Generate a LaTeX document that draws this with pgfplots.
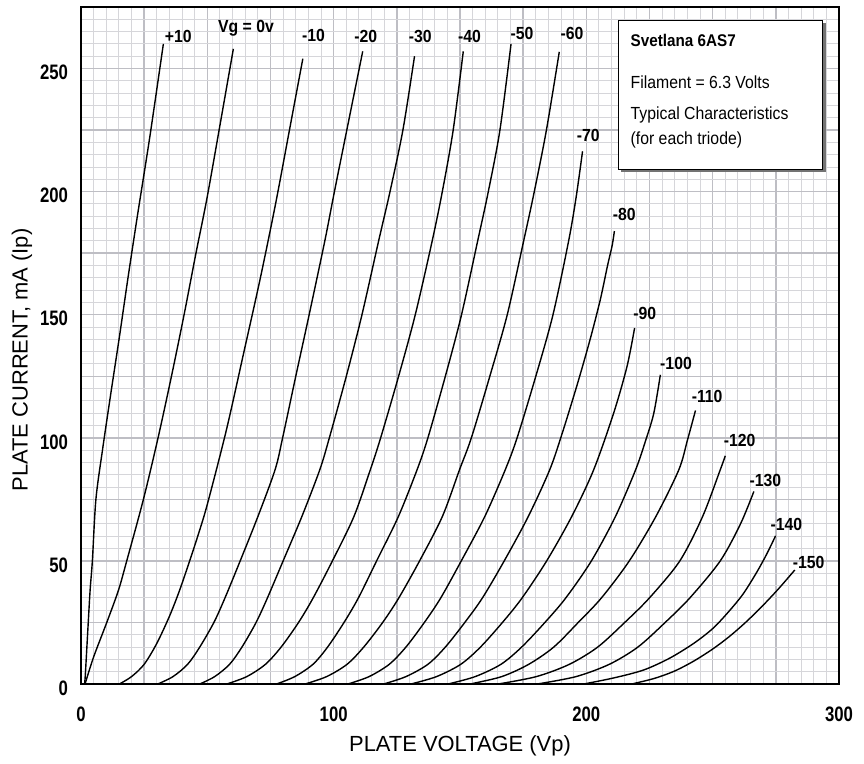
\documentclass[border=0pt]{standalone}
\usepackage{pgfplots}
\pgfplotsset{compat=1.18}
\usepackage{fontspec}
\setmainfont{Liberation Sans}
\newfontfamily\ticksfont[FakeStretch=0.8]{Liberation Sans}
\newfontfamily\curvefont[FakeStretch=0.9]{Liberation Sans}
\newfontfamily\boxfont[FakeStretch=0.9]{Liberation Sans}
\definecolor{gridminor}{RGB}{214,214,218}
\definecolor{gridmajor}{RGB}{190,190,196}
\tikzset{
  curve/.style={black, line width=0.7bp, smooth, tension=0.5, mark=none},
  clab/.style={font=\curvefont\bfseries\fontsize{8.8}{10}\selectfont, inner sep=0pt},
  boxtxt/.style={anchor=west, inner sep=0pt, font=\boxfont\fontsize{8.8}{10}\selectfont},
}

\begin{document}
\begin{tikzpicture}
\begin{axis}[
  width=379bp, height=338.5bp, scale only axis,
  xmin=0, xmax=300, ymin=0, ymax=275,
  xtick={0,25,...,300}, ytick={0,25,...,275},
  xticklabels={0,,,,100,,,,200,,,,300},
  yticklabels={0,,50,,100,,150,,200,,250,},
  minor tick num=4,
  major tick length=0pt, minor tick length=0pt,
  grid=both,
  minor grid style={gridminor, line width=0.5bp},
  major grid style={gridmajor, line width=0.75bp},
  axis line style={black, line width=1bp},
  tick label style={font=\ticksfont\bfseries\fontsize{10.5}{12}\selectfont},
  xticklabel style={yshift=-8bp},
  yticklabel style={xshift=-3bp, yshift=-2bp},
  xlabel={PLATE VOLTAGE (Vp)},
  ylabel={PLATE CURRENT, mA (Ip)},
  label style={font=\fontsize{11}{13}\selectfont},
  xlabel style={at={(axis description cs:0.5,-0.0916)}, anchor=center},
  ylabel style={at={(axis description cs:-0.0778,0.4786)}, anchor=center},
  clip mode=individual,
]
% Vg = +10
\addplot[curve] coordinates {(1.2,0) (1.6,2) (2.6,20) (3.6,38) (4.5,50) (5.9,75) (8.5,95) (11.8,118) (15.2,141) (18.6,165) (22.3,190) (27.2,222) (32.6,260)};
% Vg = 0
\addplot[curve] coordinates {(1.6,0) (5,11) (10.2,25) (14.8,38) (18.1,50) (24.7,75) (30.5,100) (35.8,125) (40.8,150) (45.5,175) (49.8,197) (55,227) (60.3,258)};
% -10
\addplot[curve] coordinates {(15.2,0) (20,3) (25,8) (30,16.5) (35,27.5) (39,38) (43,50) (46.5,61) (50,73) (57.5,103) (64.5,135) (71,165) (77,195) (82.5,225) (87.8,254)};
% -20
\addplot[curve] coordinates {(30.4,0) (36.4,3) (42.2,8) (47,15) (52.6,25) (57,35) (63,50) (70,68) (76.8,87) (79.8,100) (85,125) (90.3,150) (96.5,180) (100.3,200) (105.2,225) (111.5,257)};
% -30
\addplot[curve] coordinates {(47,0) (52.9,3) (58.8,8) (63.7,15) (69.3,25) (73.8,35) (80,50) (87.4,68) (94.5,87) (98.3,100) (105,125) (111.2,150) (117.8,180) (122.3,200) (127.4,225) (132,255)};
% -40
\addplot[curve] coordinates {(57.7,0) (65.6,3) (73,8) (79.2,15) (86.1,25) (91.9,35) (99.5,50) (108,68) (114.5,87) (118.6,100) (125.7,125) (132.3,150) (139,180) (143,200) (147.3,225) (151.3,257)};
% -50
\addplot[curve] coordinates {(77.4,0) (84.6,3) (91.8,8) (97.6,15) (104.1,25) (109.8,35) (117,50) (125.6,68) (133,87) (137.3,100) (144.2,125) (150.6,150) (157,180) (161.2,200) (165.8,225) (170.2,260)};
% -60
\addplot[curve] coordinates {(88.7,0) (97.2,3) (105.3,8) (111.9,15) (119.4,25) (125.8,35) (134,50) (143,68) (149.8,87) (154.5,100) (161.8,125) (168.7,150) (175.2,180) (179.4,200) (184.2,225) (189.3,256.8)};
% -70
\addplot[curve] coordinates {(105.7,0) (114,3) (122,8) (128.6,15) (135.9,25) (142.4,35) (150.5,50) (159.8,68) (167.9,87) (172.6,100) (180,125) (186.8,150) (193,180) (196,198) (198.5,216.4)};
% -80
\addplot[curve] coordinates {(119.8,0) (128.6,3) (137.3,8) (144.2,15) (151.9,25) (158.9,35) (167.5,50) (177,68) (185.5,87) (190.5,102) (196.5,122) (201.5,140) (205.5,156) (208.4,170) (210.2,178) (211.1,184)};
% -90
\addplot[curve] coordinates {(130.6,0) (140.7,3) (150.3,8) (158.1,15) (166.8,25) (174.6,35) (184.3,50) (194.2,68) (202.9,87) (210.8,110) (216.1,129) (219.1,144.6)};
% -100
\addplot[curve] coordinates {(145.3,0) (156,3) (166.2,8) (174.4,15) (183.6,25) (191.9,35) (202,50) (211.5,68) (219.5,87) (223.5,99) (226.7,110) (229.3,125.6)};
% -110
\addplot[curve] coordinates {(154,0) (166.5,3) (177.2,8) (187.1,15) (196.8,25) (206,35) (217,50) (227.5,68) (236.6,87) (240,99) (243.2,111.1)};
% -120
\addplot[curve] coordinates {(165.1,0) (180.2,3) (193.3,8) (204.5,15) (215.2,25) (225,35) (237,50) (246,68) (253,87) (255,92.7)};
% -130
\addplot[curve] coordinates {(180.6,0) (195.9,3) (209.1,8) (220.4,15) (231.2,25) (241,35) (253,50) (261,65) (266.3,78.2)};
% -140
\addplot[curve] coordinates {(199,0) (211,2.5) (222.7,5.7) (233,10.5) (242.5,16.5) (250,22.5) (256,29) (262,36.5) (267.5,45.5) (271.5,53) (274.9,60.2)};
% -150
\addplot[curve] coordinates {(218,0) (227,2.3) (235,5.3) (242.5,9.3) (250,14.2) (256.5,19.2) (263,25) (269.5,31.5) (276,38.6) (282.5,46.3)};

% curve labels
\node[clab] at (axis cs:38.5,263.1) {+10};
\node[clab] at (axis cs:65.3,266.5) {Vg = 0v};
\node[clab] at (axis cs:92,263.4) {-10};
\node[clab] at (axis cs:112.7,263.1) {-20};
\node[clab] at (axis cs:134.3,262.9) {-30};
\node[clab] at (axis cs:153.8,262.9) {-40};
\node[clab] at (axis cs:174.5,264.2) {-50};
\node[clab] at (axis cs:194.3,264.2) {-60};
\node[clab] at (axis cs:200.8,222.8) {-70};
\node[clab] at (axis cs:215,190.7) {-80};
\node[clab] at (axis cs:223.1,150.4) {-90};
\node[clab] at (axis cs:235.5,130.4) {-100};
\node[clab] at (axis cs:247.8,116.8) {-110};
\node[clab] at (axis cs:260.7,98.9) {-120};
\node[clab] at (axis cs:270.9,82.6) {-130};
\node[clab] at (axis cs:279.2,65) {-140};
\node[clab] at (axis cs:288,49.3) {-150};

% info box with shadow
\fill[black!55] (axis cs:213.9,207.8) rectangle (axis cs:294.7,268.3);
\filldraw[fill=white, draw=black, line width=0.5bp] (axis cs:212.7,209) rectangle (axis cs:293.5,269.5);
\node[boxtxt, font=\boxfont\bfseries\fontsize{8.5}{10}\selectfont] at (axis cs:217.4,261.5) {Svetlana 6AS7};
\node[boxtxt] at (axis cs:217.4,244.4) {Filament = 6.3 Volts};
\node[boxtxt] at (axis cs:217.4,231.3) {Typical Characteristics};
\node[boxtxt] at (axis cs:217.4,221.1) {(for each triode)};
\end{axis}
\pgfresetboundingbox
\path ([xshift=-40.5bp,yshift=-40bp]current axis.south west) rectangle ([xshift=12.5bp,yshift=3.5bp]current axis.north east);
\end{tikzpicture}
\end{document}
